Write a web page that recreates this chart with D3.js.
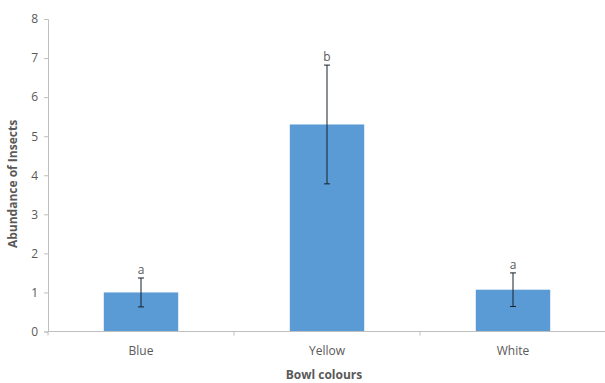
<!DOCTYPE html>
<html>
<head>
<meta charset="utf-8">
<script src="https://cdn.jsdelivr.net/npm/d3@7"></script>
<style>
  html, body { margin: 0; padding: 0; background: #fff; }
  svg text { font-family: "Open Sans", "Liberation Sans", sans-serif; fill: #595959; }
</style>
</head>
<body>
<svg id="chart" width="605" height="383"></svg>
<script>
// Insect counts per bowl colour, with error and significance letters
const categories = ["Blue", "Yellow", "White"];
const means = [1.0, 5.3, 1.07];
const errors = [0.37, 1.52, 0.43];
const letters = ["a", "b", "a"];
const yTicks = [0, 1, 2, 3, 4, 5, 6, 7, 8];

const svg = d3.select("#chart");
const plotLeft = 48, plotRight = 606, plotTop = 19, plotBottom = 331.5;

const x = d3.scaleBand().domain(categories).range([plotLeft, plotRight])
  .paddingInner(0.6).paddingOuter(0.3);
const y = d3.scaleLinear().domain([0, 8]).range([plotBottom, plotTop]);

// y axis
const yAxis = svg.append("g").attr("transform", `translate(${plotLeft},0)`)
  .call(d3.axisLeft(y).tickValues(yTicks).tickSize(4).tickPadding(6));
yAxis.select(".domain").attr("stroke", "#bfbfbf");
yAxis.selectAll(".tick line").attr("stroke", "#bfbfbf");
yAxis.selectAll(".tick text").attr("font-size", 12).attr("fill", "#595959");

// bars
svg.append("g").selectAll("rect").data(categories).join("rect")
  .attr("x", d => x(d))
  .attr("width", x.bandwidth())
  .attr("y", (d, i) => y(means[i]))
  .attr("height", (d, i) => y(0) - y(means[i]))
  .attr("fill", "#5b9bd5");

// x axis with category boundary ticks
const xg = svg.append("g");
xg.append("line").attr("x1", plotLeft).attr("x2", plotRight).attr("y1", plotBottom).attr("y2", plotBottom)
  .attr("stroke", "#bfbfbf");
const step = x.step();
const boundaries = d3.range(categories.length + 1).map(i => plotLeft + i * step);
xg.selectAll("line.b").data(boundaries).join("line").attr("class", "b")
  .attr("x1", d => d).attr("x2", d => d).attr("y1", plotBottom).attr("y2", plotBottom + 4)
  .attr("stroke", "#bfbfbf");
xg.selectAll("text").data(categories).join("text")
  .attr("x", d => x(d) + x.bandwidth() / 2)
  .attr("y", 355)
  .attr("text-anchor", "middle")
  .attr("font-size", 12)
  .text(d => d);

// error bars
const eb = svg.append("g").attr("stroke", "#17202b").attr("stroke-width", 1);
categories.forEach((c, i) => {
  const cx = x(c) + x.bandwidth() / 2;
  const hi = y(means[i] + errors[i]), lo = y(means[i] - errors[i]);
  eb.append("line").attr("x1", cx).attr("x2", cx).attr("y1", hi).attr("y2", lo);
  eb.append("line").attr("x1", cx - 3).attr("x2", cx + 3).attr("y1", hi).attr("y2", hi);
  eb.append("line").attr("x1", cx - 3).attr("x2", cx + 3).attr("y1", lo).attr("y2", lo);
});

// significance letters
svg.append("g").selectAll("text").data(categories).join("text")
  .attr("x", d => x(d) + x.bandwidth() / 2)
  .attr("y", (d, i) => y(means[i] + errors[i]) - 4)
  .attr("text-anchor", "middle")
  .attr("font-size", 12)
  .text((d, i) => letters[i]);

// axis titles
svg.append("text").attr("x", (plotLeft + plotRight) / 2 - 3).attr("y", 379)
  .attr("text-anchor", "middle").attr("font-size", 12).attr("font-weight", "bold")
  .attr("fill", "#404040")
  .text("Bowl colours");
svg.append("text")
  .attr("transform", "translate(17,184) rotate(-90)")
  .attr("text-anchor", "middle").attr("font-size", 12).attr("font-weight", "bold")
  .attr("fill", "#404040")
  .text("Abundance of Insects");
</script>
</body>
</html>
